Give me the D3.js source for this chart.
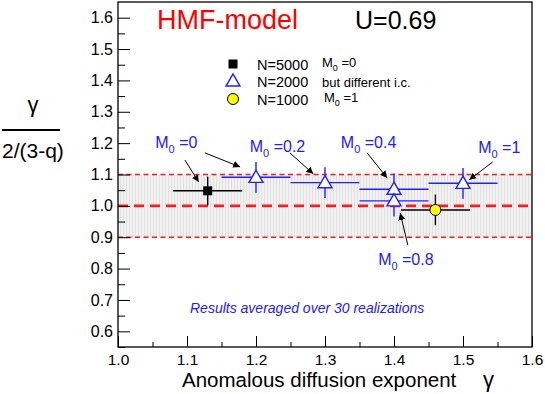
<!DOCTYPE html>
<html>
<head>
<meta charset="utf-8">
<script src="https://cdn.jsdelivr.net/npm/d3@7"></script>
<style>
  body { margin: 0; background: #fff; }
  svg { font-family: "Liberation Sans", Arial, sans-serif; }
</style>
</head>
<body>
<div id="chart"></div>
<script>
// values
const pointX = [1.13, 1.20, 1.30, 1.40, 1.40, 1.46, 1.50];
const pointY = [1.048, 1.091, 1.074, 1.053, 1.016, 0.987, 1.072];
const errX = [0.05, 0.05, 0.05, 0.05, 0.05, 0.05, 0.05];
const errY = [0.046, 0.049, 0.049, 0.05, 0.05, 0.049, 0.049];
const pointN = [5000, 2000, 2000, 2000, 2000, 1000, 2000];

const bandLines = [0.9, 1.0, 1.1];
const xTicks = [1.0, 1.1, 1.2, 1.3, 1.4, 1.5, 1.6];
const yTicks = [0.6, 0.7, 0.8, 0.9, 1.0, 1.1, 1.2, 1.3, 1.4, 1.5, 1.6];

const legendN = [5000, 2000, 1000];
const legendNote = ["M0=0", "but different i.c.", "M0=1"];

// M0 labels with the arrow pointing to each point (data units)
const noteText = ["0", "0.2", "0.4", "1", "0.8"];
const noteAt = [[1.054, 1.185], [1.191, 1.172], [1.323, 1.185], [1.522, 1.169], [1.377, 0.812]];
const arrowFrom = [[1.097, 1.146], [1.126, 1.169], [1.249, 1.169], [1.361, 1.169], [1.543, 1.14], [1.42, 0.875]];
const arrowTo = [[1.117, 1.076], [1.177, 1.124], [1.283, 1.102], [1.39, 1.089], [1.509, 1.083], [1.409, 0.977]];

const width = 545, height = 394;
const m = { left: 118, right: 532, top: 2, bottom: 347 };
const blue = "#2020ff";

const svg = d3.select("#chart").append("svg")
  .attr("width", width).attr("height", height);

const x = d3.scaleLinear().domain([1.0, 1.6]).range([m.left, m.right]);
const y = d3.scaleLinear().domain([0.55, 1.65]).range([m.bottom, m.top]);

const defs = svg.append("defs");
const pat = defs.append("pattern").attr("id", "hatch")
  .attr("width", 3).attr("height", 3).attr("patternUnits", "userSpaceOnUse");
pat.append("rect").attr("width", 3).attr("height", 3).attr("fill", "#f1f1f1");
pat.append("rect").attr("width", 1).attr("height", 3).attr("fill", "#e2e2e2");

defs.append("marker").attr("id", "arrow")
  .attr("viewBox", "0 0 10 10").attr("refX", 10).attr("refY", 5)
  .attr("markerWidth", 7).attr("markerHeight", 7)
  .attr("markerUnits", "userSpaceOnUse").attr("orient", "auto")
  .append("path").attr("d", "M0,0L10,5L0,10z").attr("fill", "#000");

// grey band
svg.append("rect")
  .attr("x", x(1.0)).attr("y", y(1.1))
  .attr("width", x(1.6) - x(1.0)).attr("height", y(0.9) - y(1.1))
  .attr("fill", "url(#hatch)");

svg.selectAll(".band").data(bandLines).enter().append("line")
  .attr("x1", x(1.0)).attr("x2", x(1.6))
  .attr("y1", d => y(d)).attr("y2", d => y(d))
  .attr("stroke", "#ff1a1a")
  .attr("stroke-width", d => d === 1.0 ? 2.6 : 1.4)
  .attr("stroke-dasharray", d => d === 1.0 ? "10,6" : "5,3.5");

// axes
svg.append("g").attr("transform", `translate(${m.left},0)`)
  .call(d3.axisLeft(y).tickValues(yTicks).tickFormat(d3.format(".1f"))
    .tickSizeInner(-12).tickSizeOuter(0).tickPadding(5));
svg.append("g").attr("transform", `translate(${m.left},0)`)
  .call(d3.axisLeft(y).tickValues(yTicks.map(d => d + 0.05).concat([0.55]).filter(d => d < 1.65))
    .tickFormat("").tickSizeInner(-7).tickSizeOuter(0));

const xAx = svg.append("g").attr("transform", `translate(0,${m.bottom})`)
  .call(d3.axisBottom(x).tickValues(xTicks).tickFormat(d3.format(".1f"))
    .tickSizeInner(-11).tickSizeOuter(0).tickPadding(7));
svg.append("g").attr("transform", `translate(0,${m.bottom})`)
  .call(d3.axisBottom(x).tickValues(xTicks.slice(0, -1).map(d => d + 0.05))
    .tickFormat("").tickSizeInner(-5).tickSizeOuter(0));

svg.selectAll(".domain").remove();
svg.selectAll(".tick line").attr("stroke", "#000").attr("stroke-width", 1);
svg.selectAll(".tick text").attr("font-size", 16).attr("fill", "#000")
  .attr("font-family", "Liberation Sans, Arial, sans-serif");
xAx.selectAll(".tick text").attr("font-size", 15.5);

svg.append("rect")
  .attr("x", m.left).attr("y", m.top)
  .attr("width", m.right - m.left).attr("height", m.bottom - m.top)
  .attr("fill", "none").attr("stroke", "#000").attr("stroke-width", 1.3);

// error bars
const pts = pointX.map((d, i) => ({ x: d, y: pointY[i], ex: errX[i], ey: errY[i], n: pointN[i] }));
const barColor = d => d.n === 2000 ? blue : "#000";

const eb = svg.append("g");
eb.selectAll(".ex").data(pts).enter().append("line")
  .attr("x1", d => x(d.x - d.ex)).attr("x2", d => x(d.x + d.ex))
  .attr("y1", d => y(d.y)).attr("y2", d => y(d.y))
  .attr("stroke", barColor).attr("stroke-width", 1.4);
eb.selectAll(".ey").data(pts).enter().append("line")
  .attr("x1", d => x(d.x)).attr("x2", d => x(d.x))
  .attr("y1", d => y(d.y - d.ey)).attr("y2", d => y(d.y + d.ey))
  .attr("stroke", barColor).attr("stroke-width", 1.4);

// markers
const triangle = d3.symbol().type(d3.symbolTriangle).size(85);
function drawMarker(g, n) {
  if (n === 5000) {
    g.append("rect").attr("x", -4.5).attr("y", -4.5).attr("width", 9).attr("height", 9)
      .attr("fill", "#000");
  } else if (n === 2000) {
    g.append("path").attr("d", triangle()).attr("transform", "translate(0,1)")
      .attr("fill", "#fff").attr("stroke", blue).attr("stroke-width", 1.4);
  } else {
    g.append("circle").attr("r", 5.5).attr("fill", "#ffff00")
      .attr("stroke", "#000").attr("stroke-width", 1);
  }
}
pts.forEach(d => {
  const g = svg.append("g").attr("transform", `translate(${x(d.x)},${y(d.y)})`);
  drawMarker(g, d.n);
});

// arrows
svg.selectAll(".arrow").data(arrowFrom).enter().append("line")
  .attr("x1", d => x(d[0])).attr("y1", d => y(d[1]))
  .attr("x2", (d, i) => x(arrowTo[i][0])).attr("y2", (d, i) => y(arrowTo[i][1]))
  .attr("stroke", "#000").attr("stroke-width", 1)
  .attr("marker-end", "url(#arrow)");

// M0 labels
function mLabel(sel, value, size, sub) {
  sel.append("tspan").text("M");
  sel.append("tspan").attr("font-size", sub).attr("dy", size * 0.3).text("0");
  sel.append("tspan").attr("dy", -size * 0.3).text(" =" + value);
}
noteText.forEach((t, i) => {
  const txt = svg.append("text")
    .attr("x", x(noteAt[i][0])).attr("y", y(noteAt[i][1]))
    .attr("font-size", 16).attr("fill", blue);
  mLabel(txt, t, 16, 11);
});

// title
svg.append("text").attr("x", 157).attr("y", 29)
  .attr("font-size", 27).attr("fill", "#ff0000").text("HMF-model");
svg.append("text").attr("x", 355).attr("y", 29)
  .attr("font-size", 25).attr("fill", "#000").text("U=0.69");

// legend
const legY = [64, 81, 99];
legendN.forEach((n, i) => {
  const g = svg.append("g").attr("transform", `translate(233,${legY[i]})`);
  drawMarker(g, n);
  svg.append("text").attr("x", 257).attr("y", legY[i] + 6)
    .attr("font-size", 14.5).text("N=" + n);
  const note = svg.append("text").attr("x", i === 2 ? 324 : 322).attr("y", legY[i] + (i === 1 ? 6 : 3))
    .attr("font-size", 13);
  if (legendNote[i].startsWith("M0")) mLabel(note, legendNote[i].split("=")[1], 13, 9);
  else note.text(legendNote[i]);
});

svg.append("text").attr("x", 190).attr("y", 313)
  .attr("font-size", 14).attr("font-style", "italic").attr("fill", blue)
  .text("Results averaged over 30 realizations");

// axis titles
svg.append("text").attr("x", 182).attr("y", 387)
  .attr("font-size", 20.5).text("Anomalous diffusion exponent");
svg.append("text").attr("x", 483).attr("y", 387)
  .attr("font-size", 22).text("γ");

svg.append("text").attr("x", 33).attr("y", 112).attr("text-anchor", "middle")
  .attr("font-size", 22).text("γ");
svg.append("line").attr("x1", 2).attr("x2", 60).attr("y1", 130).attr("y2", 130)
  .attr("stroke", "#000").attr("stroke-width", 1.8);
svg.append("text").attr("x", 2).attr("y", 158)
  .attr("font-size", 21).text("2/(3-q)");
</script>
</body>
</html>
